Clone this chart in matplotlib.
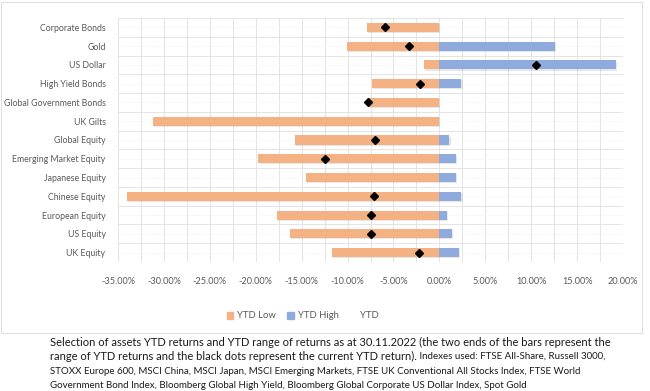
import numpy as np
import matplotlib
matplotlib.use("Agg")
import matplotlib.pyplot as plt
from matplotlib.patches import Rectangle, Patch
from matplotlib.lines import Line2D
import matplotlib.patheffects as pe
from matplotlib.ticker import MultipleLocator, FuncFormatter

plt.rcParams['font.family'] = ['Lato', 'DejaVu Sans']

assets = ["Corporate Bonds", "Gold", "US Dollar", "High Yield Bonds",
          "Global Government Bonds", "UK Gilts", "Global Equity",
          "Emerging Market Equity", "Japanese Equity", "Chinese Equity",
          "European Equity", "US Equity", "UK Equity"]
ytd_low = [-7.9, -10.1, -1.7, -7.3, -7.7, -31.2, -15.7, -19.7, -14.5, -34.0, -17.7, -16.3, -11.7]
ytd_high = [0.0, 12.6, 19.2, 2.4, 0.0, 0.0, 1.1, 1.8, 1.8, 2.4, 0.8, 1.4, 2.1]
ytd = [-5.9, -3.3, 10.5, -2.1, -7.8, np.nan, -7.0, -12.5, np.nan, -7.1, -7.5, -7.5, -2.2]
xticks = [-35, -30, -25, -20, -15, -10, -5, 0, 5, 10, 15, 20]

orange = "#F4B183"
blue = "#8FAADC"
txt = "#595959"

fig = plt.figure(figsize=(6.5, 3.91), dpi=100)
W, H = 650, 391
ax = fig.add_axes([118 / W, 1 - 262 / H, (623 - 118) / W, (262 - 18) / H])

y = np.arange(len(assets))
shadow = [pe.SimplePatchShadow(offset=(0.8, -0.8), shadow_rgbFace="#a0a0a0", alpha=0.25), pe.Normal()]
b1 = ax.barh(y, ytd_low, height=0.48, color=orange, zorder=3)
b2 = ax.barh(y, ytd_high, height=0.48, color=blue, zorder=3)
for b in list(b1) + list(b2):
    b.set_path_effects(shadow)
ax.plot(ytd, y, linestyle="none", marker="D", color="black", markersize=4.3, zorder=4)

ax.set_xlim(-35, 20)
ax.set_ylim(len(assets) - 0.5, -0.5)
ax.set_xticks(xticks)
ax.xaxis.set_major_formatter(FuncFormatter(lambda v, p: f"{v:.2f}%"))
ax.xaxis.set_minor_locator(MultipleLocator(2.5))
ax.set_yticks(y)
ax.set_yticklabels(assets)
ax.set_yticks(np.arange(-0.5, len(assets), 1.0), minor=True)
ax.tick_params(axis="both", which="both", length=0, labelcolor=txt, labelsize=6.6)
ax.tick_params(axis="y", pad=9, labelsize=6.3)
ax.tick_params(axis="x", pad=11)
for s in ax.spines.values():
    s.set_visible(False)
ax.grid(True, which="major", axis="x", color="#e4e4e4", linewidth=0.7, zorder=0)
ax.grid(True, which="minor", color="#e4e4e4", linewidth=0.7, zorder=0)
ax.grid(True, which="major", axis="y", color="#f0f0f0", linewidth=0.6, linestyle=(0, (2, 2)), zorder=0)
ax.set_axisbelow(True)

handles = [Patch(color=orange), Patch(color=blue), Line2D([], [], linestyle="none")]
fig.legend(handles, ["YTD Low", "YTD High", "YTD"], loc="center", bbox_to_anchor=(303 / W, 1 - 316 / H),
           ncol=3, frameon=False, fontsize=6.8, labelcolor=txt, handlelength=0.7, handleheight=0.7,
           handletextpad=0.4, columnspacing=1.2)

fig.patches.append(Rectangle((0.5 / W, 1 - 333 / H), 641 / W, 331 / H, transform=fig.transFigure,
                             fill=False, edgecolor="#e0e0e0", linewidth=0.8))

cap1 = "Selection of assets YTD returns and YTD range of returns as at 30.11.2022 (the two ends of the bars represent the"
cap2a = "range of YTD returns and the black dots represent the current YTD return)."
cap2b = " Indexes used: FTSE All-Share, Russell 3000,"
cap3 = "STOXX Europe 600, MSCI China, MSCI Japan, MSCI Emerging Markets, FTSE UK Conventional All Stocks Index, FTSE World"
cap4 = "Government Bond Index, Bloomberg Global High Yield, Bloomberg Global Corporate US Dollar Index, Spot Gold"

x0 = 50 / W
t1 = fig.text(x0, 1 - 342 / H, cap1, fontsize=8.0, va="center", color="#1a1a1a")
t2 = fig.text(x0, 1 - 356 / H, cap2a, fontsize=8.0, va="center", color="#1a1a1a")
fig.text(x0, 1 - 371 / H, cap3, fontsize=7.0, va="center", color="#1a1a1a")
fig.text(x0, 1 - 386 / H, cap4, fontsize=7.0, va="center", color="#1a1a1a")
r = fig.canvas.get_renderer()
ext = t2.get_window_extent(r)
fig.text(ext.x1 / W, 1 - 356 / H, cap2b, fontsize=7.0, va="center", color="#1a1a1a")

fig.savefig("out.png", dpi=100)
